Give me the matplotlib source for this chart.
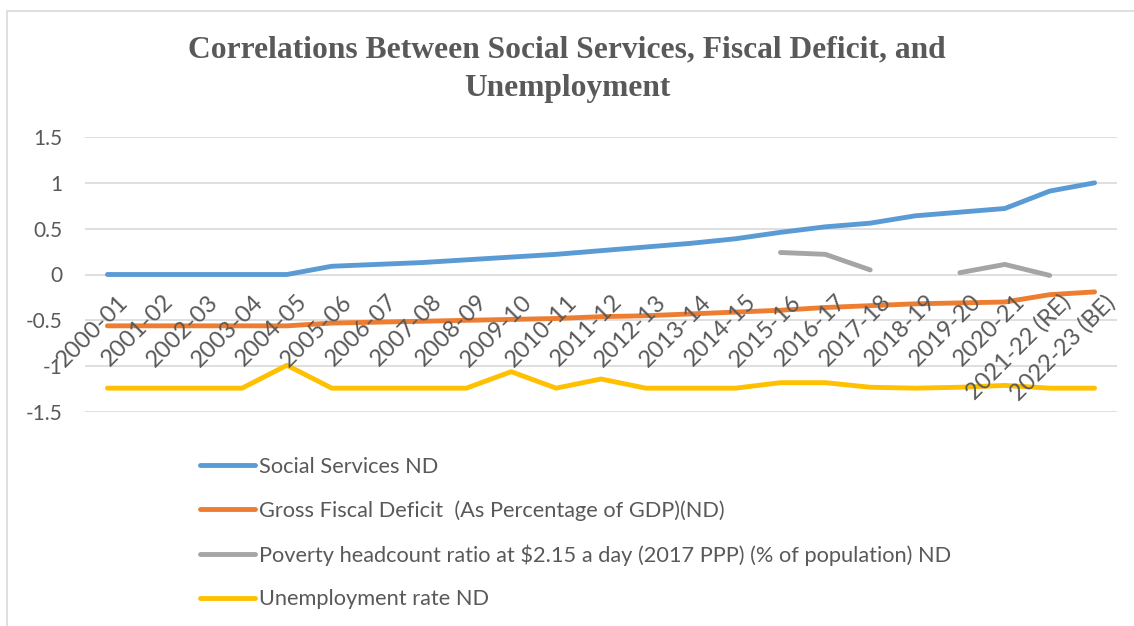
import numpy as np
import matplotlib
matplotlib.use("Agg")
import matplotlib.pyplot as plt
from matplotlib.patches import Rectangle

years = ["2000-01", "2001-02", "2002-03", "2003-04", "2004-05", "2005-06",
         "2006-07", "2007-08", "2008-09", "2009-10", "2010-11", "2011-12",
         "2012-13", "2013-14", "2014-15", "2015-16", "2016-17", "2017-18",
         "2018-19", "2019-20", "2020-21", "2021-22 (RE)", "2022-23 (BE)"]

social = [0, 0, 0, 0, 0, 0.09, 0.11, 0.13, 0.16, 0.19, 0.22, 0.26,
          0.30, 0.34, 0.39, 0.46, 0.52, 0.56, 0.64, 0.68, 0.72, 0.91, 1.0]
deficit = [-0.56, -0.56, -0.56, -0.56, -0.56, -0.53, -0.52, -0.51, -0.50, -0.49, -0.48, -0.46,
           -0.45, -0.43, -0.41, -0.39, -0.36, -0.34, -0.32, -0.31, -0.30, -0.22, -0.19]
poverty = [np.nan] * 15 + [0.24, 0.22, 0.05, np.nan, 0.02, 0.11, -0.01, np.nan]
unemp = [-1.24, -1.24, -1.24, -1.24, -0.99, -1.24, -1.24, -1.24, -1.24, -1.06, -1.24, -1.14,
         -1.24, -1.24, -1.24, -1.18, -1.18, -1.23, -1.24, -1.23, -1.21, -1.24, -1.24]

labels = ["Social Services ND",
          "Gross Fiscal Deficit  (As Percentage of GDP)(ND)",
          "Poverty headcount ratio at $2.15 a day (2017 PPP) (% of population) ND",
          "Unemployment rate ND"]
colors = ["#5B9BD5", "#ED7D31", "#A5A5A5", "#FFC000"]

plt.rcParams['font.family'] = ['Lato', 'DejaVu Sans']
text_color = "#595959"

fig = plt.figure(figsize=(11.34, 6.26), dpi=100)
ax = fig.add_axes([85 / 1134, 1 - 412 / 626, (1117 - 85) / 1134, (412 - 137) / 626])

# chart border
fig.patches.append(Rectangle((7 / 1134, -0.1), 1.2, 1 - 11 / 626 + 0.1,
                             transform=fig.transFigure, fill=False,
                             edgecolor="#D9D9D9", linewidth=1.2))

x = np.arange(len(years))
for series, lab, col in zip([social, deficit, poverty, unemp], labels, colors):
    ax.plot(x, series, color=col, linewidth=3.5, label=lab, solid_capstyle='round',
            solid_joinstyle='round')

ax.set_xlim(-0.5, len(years) - 0.5)
ax.set_ylim(-1.5, 1.5)
ax.set_yticks([-1.5, -1, -0.5, 0, 0.5, 1, 1.5])
ax.set_yticklabels(["-1.5", "-1", "-0.5", "0", "0.5", "1", "1.5"])
ax.grid(axis='y', color="#D9D9D9", linewidth=1.2)
ax.set_axisbelow(True)
for s in ax.spines.values():
    s.set_visible(False)
ax.tick_params(axis='y', length=0, labelsize=15, labelcolor=text_color, pad=16)
ax.set_xticks([])

# category labels sit next to the axis at y = 0
for xi, yr in zip(x, years):
    ax.text(xi + 0.22, -0.18, yr, rotation=45, ha='right', va='top',
            rotation_mode='anchor', fontsize=17, color=text_color)

fig.text(0.5, 1 - 69 / 626, "Correlations Between Social Services, Fiscal Deficit, and\nUnemployment",
         ha='center', va='center', fontsize=22.7, fontweight='bold', color=text_color,
         family=['Liberation Serif', 'DejaVu Serif'], linespacing=1.42)

fig.legend(loc='upper left', bbox_to_anchor=(180 / 1134, 1 - 437 / 626), frameon=False,
           fontsize=15.7, handlelength=2.55, handletextpad=0.18, labelspacing=1.08,
           labelcolor=text_color)

fig.savefig("out.png", dpi=100)
